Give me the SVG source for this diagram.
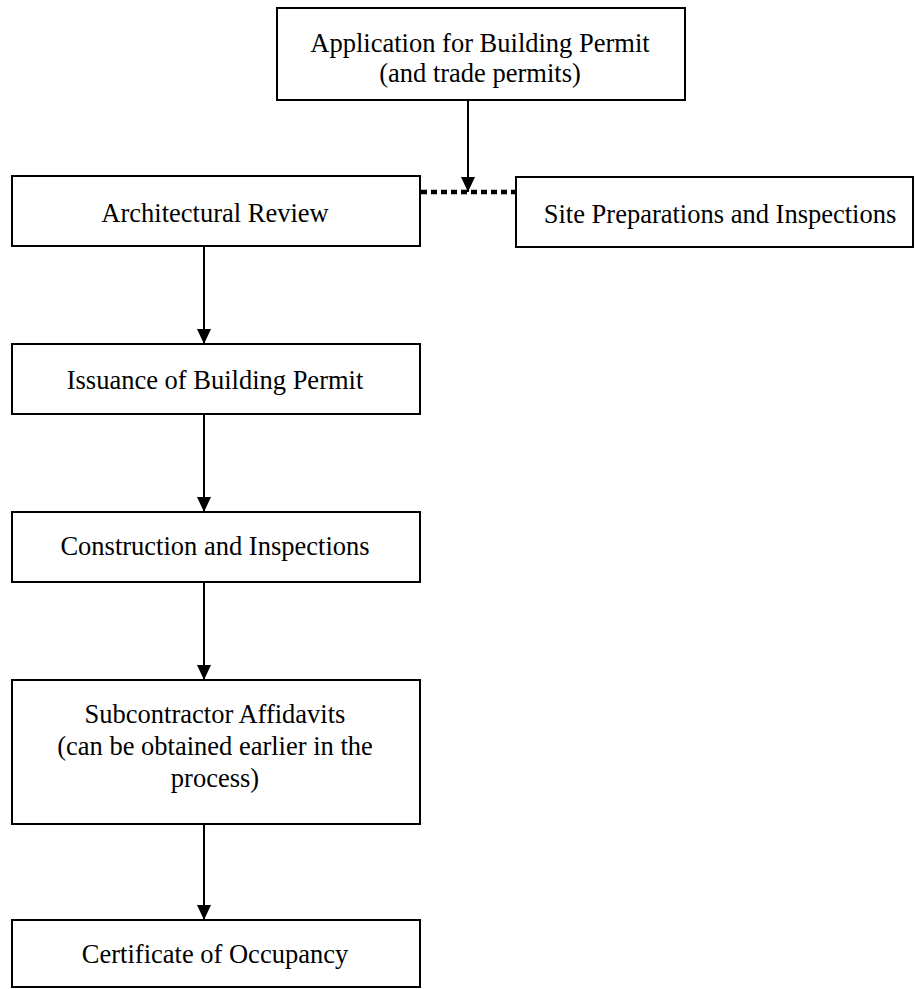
<svg xmlns="http://www.w3.org/2000/svg" width="915" height="989" viewBox="0 0 915 989">
<style>
.box{fill:#fff;stroke:#000;stroke-width:2}
.t{font-family:"Liberation Serif","Times New Roman",serif;font-size:26.5px;fill:#000;text-anchor:middle}
.c{stroke:#000;stroke-width:2;fill:none}
.d{stroke:#000;stroke-width:4.5;stroke-dasharray:6 4;fill:none}
</style>
<defs>
<marker id="ah" markerUnits="userSpaceOnUse" markerWidth="16" markerHeight="16" refX="15" refY="7" orient="auto">
<path d="M0,0 L15,7 L0,14 Z" fill="#000"/>
</marker>
</defs>
<rect width="915" height="989" fill="#fff"/>
<g id="connectors">
<line class="c" x1="468" y1="101" x2="468" y2="192" marker-end="url(#ah)"/>
<line class="d" x1="421" y1="192" x2="515" y2="192"/>
<line class="c" x1="204" y1="247" x2="204" y2="344" marker-end="url(#ah)"/>
<line class="c" x1="204" y1="415" x2="204" y2="512" marker-end="url(#ah)"/>
<line class="c" x1="204" y1="583" x2="204" y2="680" marker-end="url(#ah)"/>
<line class="c" x1="204" y1="825" x2="204" y2="920" marker-end="url(#ah)"/>
</g>
<g id="application">
<rect class="box" x="277" y="8" width="408" height="92"/>
<text class="t" x="480" y="52">Application for Building Permit</text>
<text class="t" x="480" y="82">(and trade permits)</text>
</g>
<g id="architectural">
<rect class="box" x="12" y="176" width="408" height="70"/>
<text class="t" x="215" y="222">Architectural Review</text>
</g>
<g id="site">
<rect class="box" x="516" y="177" width="397" height="70"/>
<text class="t" x="720" y="223">Site Preparations and Inspections</text>
</g>
<g id="issuance">
<rect class="box" x="12" y="344" width="408" height="70"/>
<text class="t" x="215" y="389">Issuance of Building Permit</text>
</g>
<g id="construction">
<rect class="box" x="12" y="512" width="408" height="70"/>
<text class="t" x="215" y="555">Construction and Inspections</text>
</g>
<g id="subcontractor">
<rect class="box" x="12" y="680" width="408" height="144"/>
<text class="t" x="215" y="723">Subcontractor Affidavits</text>
<text class="t" x="215" y="755">(can be obtained earlier in the</text>
<text class="t" x="215" y="787">process)</text>
</g>
<g id="certificate">
<rect class="box" x="12" y="920" width="408" height="67"/>
<text class="t" x="215" y="963">Certificate of Occupancy</text>
</g>
</svg>
